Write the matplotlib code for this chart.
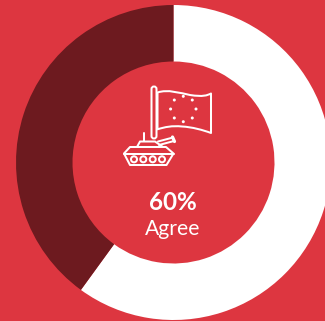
import numpy as np
import matplotlib
matplotlib.use("Agg")
import matplotlib.pyplot as plt
from matplotlib.patches import Circle, FancyBboxPatch, PathPatch, Polygon
from matplotlib.path import Path

# Survey shares
labels = ["Agree", "Other"]
shares = [60, 40]
headline = "60%"

RED = "#dd3640"
DARK = "#6d1a1f"
WHITE = "#ffffff"
W, H = 325, 321
CX, CY, R_OUT, R_IN = 173.5, 162.5, 157.5, 101

fig = plt.figure(figsize=(W / 100, H / 100), dpi=100, facecolor=RED)

# Donut, running clockwise from twelve o'clock
donut = fig.add_axes([(CX - R_OUT) / W, 1 - (CY + R_OUT) / H, 2 * R_OUT / W, 2 * R_OUT / H])
donut.pie(shares, colors=[WHITE, DARK], startangle=90, counterclock=False, radius=1,
          wedgeprops=dict(width=1 - R_IN / R_OUT, linewidth=0))
donut.set_xlim(-1, 1)
donut.set_ylim(-1, 1)
donut.axis("off")

# Overlay in pixel units for the pictogram and centre text
ov = fig.add_axes([0, 0, 1, 1])
ov.set_xlim(0, W)
ov.set_ylim(H, 0)
ov.axis("off")
ov.patch.set_alpha(0)
LW = 1.45
line = dict(color=WHITE, lw=LW, solid_capstyle="round", solid_joinstyle="round")

# Flag pole
ov.add_patch(FancyBboxPatch((151.5, 86.5), 5, 52, boxstyle="round,pad=0,rounding_size=2.5",
                            fc="none", ec=WHITE, lw=LW))

# Waving flag
flag = Path(
    [(157.5, 92.5), (168, 89), (180, 93), (190, 95), (203, 97), (207, 95.5), (211, 93.5),
     (211, 133),
     (203, 130), (192, 127), (182, 126.5), (172, 125.5), (165, 127), (157.5, 129.3),
     (157.5, 92.5)],
    [Path.MOVETO, Path.CURVE4, Path.CURVE4, Path.CURVE4, Path.CURVE4, Path.CURVE4, Path.CURVE4,
     Path.LINETO,
     Path.CURVE4, Path.CURVE4, Path.CURVE4, Path.CURVE4, Path.CURVE4, Path.CURVE4,
     Path.CLOSEPOLY])
ov.add_patch(PathPatch(flag, fc="none", ec=WHITE, lw=LW, joinstyle="round"))

# Ring of stars on the flag
for a in np.deg2rad(np.arange(0, 360, 45)):
    ov.add_patch(Circle((183.3 + 12.7 * np.cos(a), 109 + 12.7 * np.sin(a)), 1.5, fc=WHITE, ec="none"))

# Tank hull
ov.add_patch(Polygon([(124, 153.5), (130, 147), (166, 147), (173.5, 153.5),
                     (166.5, 165), (130, 165)], closed=True, fc="none", ec=WHITE, lw=LW, joinstyle="round"))
ov.plot([124, 173.5], [153.5, 153.5], **line)

# Turret, aerial and gun barrel
ov.plot([137, 140, 155, 163], [147, 141.5, 141.5, 147], **line)
ov.plot([144.3, 144.3], [133, 141], **line)
ov.plot([158, 173], [141.5, 137.5], color=WHITE, lw=LW, solid_capstyle="round")
ov.plot([159, 174], [145, 141], color=WHITE, lw=LW, solid_capstyle="round")
ov.plot([172.5, 174.5], [137, 141.5], color=WHITE, lw=LW * 1.6, solid_capstyle="round")

# Road wheels
for x in (134, 143.3, 152.7, 162):
    ov.add_patch(Circle((x, 159.3), 3, fc="none", ec=WHITE, lw=LW))

# Centre text
ov.text(173, 203, headline, color=WHITE, ha="center", va="center", fontsize=17.5,
        fontweight="bold", family="Lato")
ov.text(173, 229, labels[0], color=WHITE, ha="center", va="center", fontsize=15.2, family="Lato")

fig.savefig("out.png", dpi=100, facecolor=RED)
